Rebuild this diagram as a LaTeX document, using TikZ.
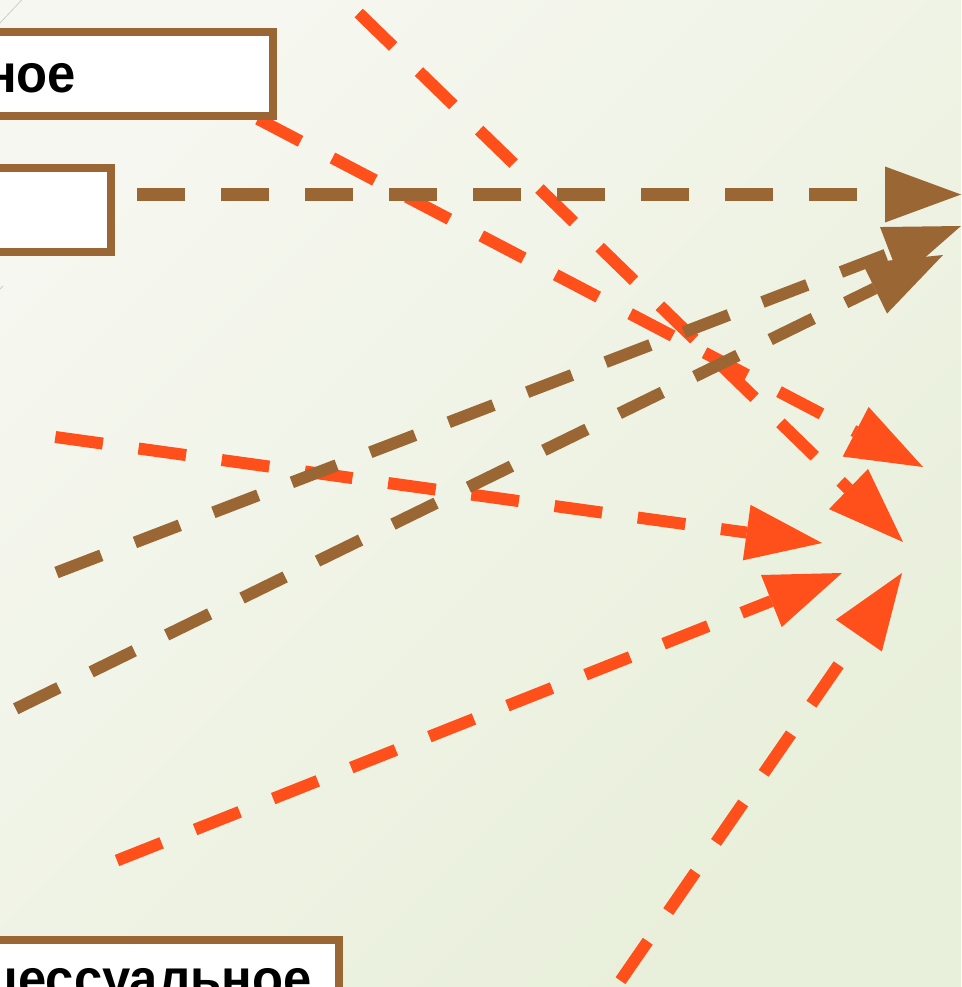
\documentclass[tikz,border=0pt]{standalone}
\usepackage{fontspec}
\setmainfont{Liberation Sans}
\newfontfamily\boxfont{Liberation Sans}[FakeStretch=0.94]
\usetikzlibrary{arrows.meta}
\definecolor{brn}{RGB}{154,102,52}
\definecolor{org}{RGB}{255,79,26}
\definecolor{bgA}{RGB}{246,247,240}
\definecolor{bgB}{RGB}{232,239,218}
\definecolor{faint}{RGB}{205,207,198}
\pgfdeclarelayer{bglayer}
\pgfdeclarelayer{linelayer}
\pgfsetlayers{bglayer,linelayer,main}
\tikzset{
  box/.style={draw=brn, line width=8pt, fill=white, rectangle,
    font=\boxfont\fontsize{54}{60}\selectfont\bfseries, text height=28pt, text depth=0pt, align=right},
  conn/.style={line width=12pt, dash pattern=on 48pt off 36pt,
    -{Triangle[length=76pt,width=56pt,line width=0pt]}},
  brownconn/.style={conn, draw=brn},
  orangeconn/.style={conn, draw=org}
}
\begin{document}
\begin{tikzpicture}[x=1pt,y=-1pt]
\useasboundingbox (0,0) rectangle (961,987);
\begin{pgfonlayer}{bglayer}
  \shade[top color=bgA, bottom color=bgB, shading angle=45] (0,0) rectangle (961,987);
  \draw[faint, line width=0.8pt] (0,23) -- (21.7,0);
  \draw[faint, line width=0.8pt] (0,289) -- (3,286);
\end{pgfonlayer}

% boxes
\node[box, anchor=north east, text width=300pt, inner xsep=197pt, inner ysep=24pt, text height=36pt] (b1) at (277,28.3) {ное};
\node[box, anchor=north east, minimum width=500pt, minimum height=83.5pt, inner sep=0pt] (b2) at (115,164.5) {};
\node[box, anchor=north east, text width=500pt, inner xsep=27pt, inner ysep=29.5pt] (b3) at (342.5,935.5) {цессуальное};

% connector ends
\coordinate (s1) at (258,119);   \coordinate (t1) at (923,467);
\coordinate (s2) at (358.7,13);  \coordinate (t2) at (903,542);
\coordinate (s3) at (55.3,437);  \coordinate (t3) at (822,543);
\coordinate (s4) at (117,860.5); \coordinate (t4) at (842,573);
\coordinate (s5) at (620.5,980.7); \coordinate (t5) at (902,573);
\coordinate (sA) at (56.5,572.5); \coordinate (tA) at (961,226);
\coordinate (sB) at (15.7,708.8); \coordinate (tB) at (943,255);
\coordinate (tH) at (961,194.5);

\begin{pgfonlayer}{linelayer}
  \draw[orangeconn] (s1) -- (t1);
  \draw[orangeconn] (s2) -- (t2);
  \draw[orangeconn] (s3) -- (t3);
  \draw[orangeconn] (s4) -- (t4);
  \draw[orangeconn] (s5) -- (t5);
  \draw[brownconn, shorten <=22pt] (b2.east |- tH) -- (tH);
  \draw[brownconn] (sA) -- (tA);
  \draw[brownconn] (sB) -- (tB);
\end{pgfonlayer}
\end{tikzpicture}
\end{document}
